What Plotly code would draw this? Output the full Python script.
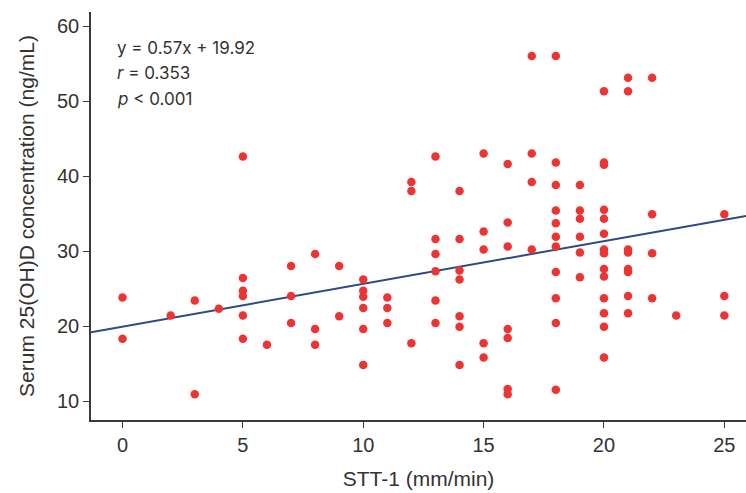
import plotly.graph_objects as go

# STT-1 (mm/min) and serum 25(OH)D (ng/mL), one entry per subject
stt1 = [0, 0,
        2,
        3, 3,
        4,
        5, 5, 5, 5, 5, 5,
        6,
        7, 7, 7,
        8, 8, 8,
        9, 9,
        10, 10, 10, 10, 10, 10,
        11, 11, 11,
        12, 12, 12,
        13, 13, 13, 13, 13, 13,
        14, 14, 14, 14, 14, 14, 14,
        15, 15, 15, 15, 15,
        16, 16, 16, 16, 16, 16, 16,
        17, 17, 17, 17,
        18, 18, 18, 18, 18, 18, 18, 18, 18, 18, 18,
        19, 19, 19, 19, 19, 19,
        20, 20, 20, 20, 20, 20, 20, 20, 20, 20, 20, 20, 20, 20,
        21, 21, 21, 21, 21, 21, 21, 21,
        22, 22, 22, 22,
        23,
        25, 25, 25]

vitd = [23.8, 18.3,
        21.4,
        23.4, 10.9,
        22.3,
        42.6, 26.4, 24.7, 24.0, 21.4, 18.3,
        17.5,
        28.0, 24.0, 20.4,
        29.6, 19.6, 17.5,
        28.0, 21.3,
        26.2, 24.7, 23.9, 22.4, 19.6, 14.8,
        23.8, 22.4, 20.4,
        39.2, 38.0, 17.7,
        42.6, 31.6, 29.6, 27.3, 23.4, 20.4,
        38.0, 31.6, 27.4, 26.2, 21.3, 19.9, 14.8,
        43.0, 32.6, 30.2, 17.7, 15.8,
        41.6, 33.8, 30.6, 19.6, 18.4, 11.6, 10.9,
        56.0, 43.0, 39.2, 30.2,
        56.0, 41.8, 38.8, 35.4, 33.7, 31.9, 30.6, 27.2, 23.7, 20.4, 11.5,
        38.8, 35.4, 34.3, 31.9, 29.8, 26.5,
        51.3, 41.8, 41.5, 35.5, 34.3, 32.3, 30.2, 29.7, 27.6, 26.6, 23.7, 21.7, 19.9, 15.8,
        53.1, 51.3, 30.2, 29.8, 27.6, 27.2, 24.0, 21.7,
        53.1, 34.9, 29.7, 23.7,
        21.4,
        34.9, 24.0, 21.4]

# Linear fit reported on the chart
slope = 0.57
intercept = 19.92
r_value = "0.353"
p_text = "0.001"

x_range = [-1.31, 25.9]
y_range = [7.47, 61.87]
x_ticks = [0, 5, 10, 15, 20, 25]
y_ticks = [10, 20, 30, 40, 50, 60]

axis_color = "#3a3a3a"
tick_font = dict(family="Liberation Sans Narrow, Arial Narrow, Liberation Sans, sans-serif",
                 size=20, color="#333333")

fig = go.Figure()

fig.add_trace(go.Scatter(
    x=x_range,
    y=[slope * v + intercept for v in x_range],
    mode="lines",
    line=dict(color="#2c4a85", width=2),
    hoverinfo="skip",
    showlegend=False,
))

fig.add_trace(go.Scatter(
    x=stt1, y=vitd,
    mode="markers",
    marker=dict(color="#ee3333", size=8.5, line=dict(width=0)),
    showlegend=False,
))

fig.update_layout(
    width=746, height=493,
    margin=dict(l=91, r=0, t=12, b=73),
    paper_bgcolor="white",
    plot_bgcolor="white",
    xaxis=dict(
        range=x_range,
        tickvals=x_ticks,
        showgrid=False, zeroline=False,
        showline=True, linecolor=axis_color, linewidth=1.5,
        ticks="outside", ticklen=6, tickwidth=1.2, tickcolor=axis_color,
        tickfont=tick_font,
        title=dict(text="STT-1 (mm/min)",
                   font=dict(family="Liberation Sans Narrow, Arial Narrow, Liberation Sans, sans-serif",
                             size=21, color="#333333"),
                   standoff=17),
    ),
    yaxis=dict(
        range=y_range,
        tickvals=y_ticks,
        showgrid=False, zeroline=False,
        showline=True, linecolor=axis_color, linewidth=1.5,
        ticks="outside", ticklen=6, tickwidth=1.2, tickcolor=axis_color,
        tickfont=tick_font,
        title=dict(text="Serum 25(OH)D concentration (ng/mL)",
                   font=dict(family="Liberation Sans, Arial, sans-serif", size=21, color="#333333"),
                   standoff=17),
    ),
)

stats_font = dict(family="Inter, Lato, sans-serif", size=17, color="#333333")
stat_lines = [
    f"y = {slope}x + {intercept}",
    f"<i>r</i> = {r_value}",
    f"<i>p</i> &lt; {p_text}",
]
for i, txt in enumerate(stat_lines):
    fig.add_annotation(
        xref="paper", yref="paper",
        x=(115 - 91) / 655, y=1 - (47.7 + 25.5 * i - 12) / 408,
        xanchor="left", yanchor="middle",
        text=txt, showarrow=False, font=stats_font,
    )

fig.write_html("out.html")
